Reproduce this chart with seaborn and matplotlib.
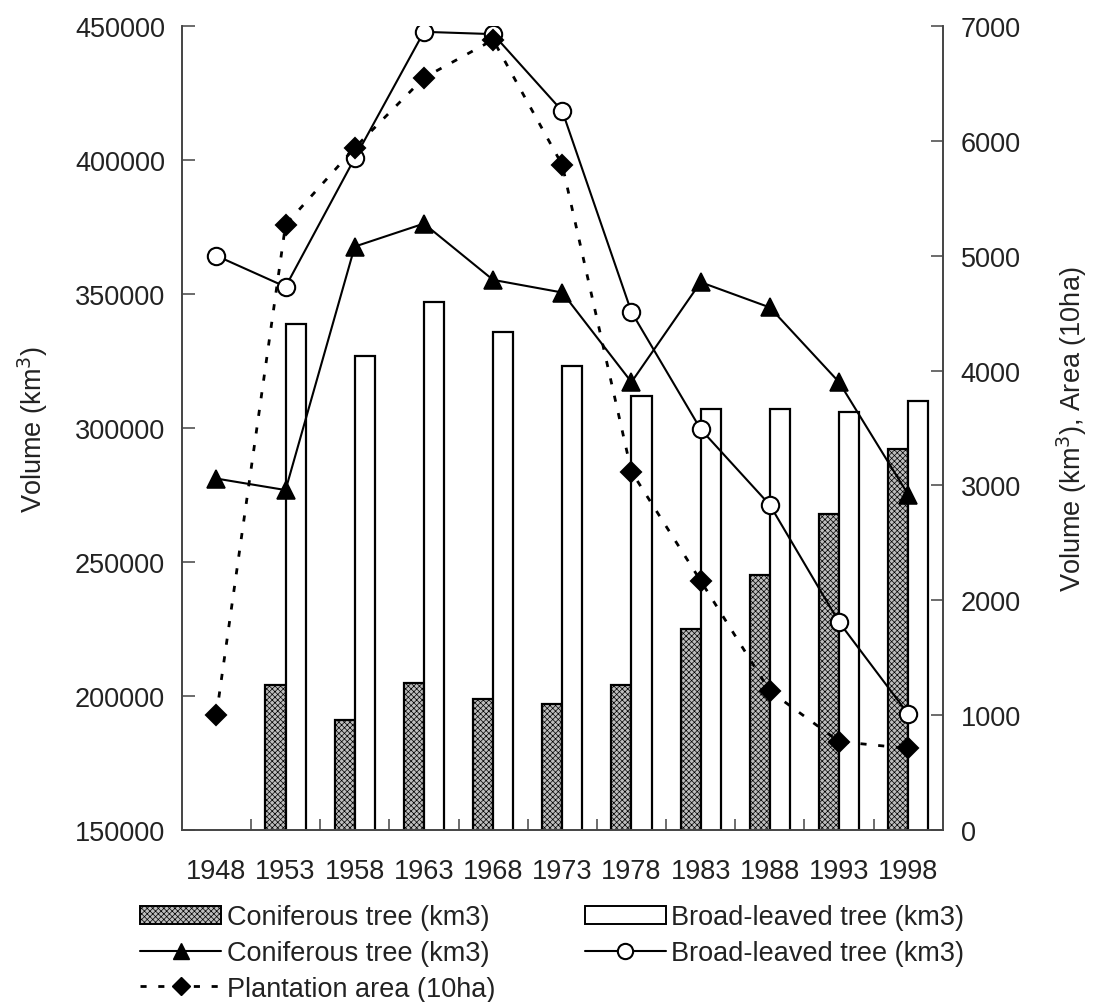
import numpy as np
import pandas as pd
import matplotlib
matplotlib.use("Agg")
import matplotlib.pyplot as plt
import seaborn as sns
from matplotlib.patches import Patch
from matplotlib.lines import Line2D

years = ["1948", "1953", "1958", "1963", "1968", "1973", "1978", "1983", "1988", "1993", "1998"]
conif_volume_bar = [np.nan, 204000, 191000, 205000, 199000, 197000, 204000, 225000, 245000, 268000, 292000]
broad_volume_bar = [np.nan, 339000, 327000, 347000, 336000, 323000, 312000, 307000, 307000, 306000, 310000]
conif_line = [3060, 2960, 5080, 5280, 4790, 4680, 3900, 4770, 4550, 3900, 2920]
broad_line = [5000, 4730, 5850, 6950, 6930, 6260, 4510, 3490, 2830, 1810, 1010]
plantation = [1000, 5270, 5940, 6550, 6880, 5790, 3120, 2170, 1210, 770, 710]

bar_labels = ["Coniferous tree (km3)", "Broad-leaved tree (km3)"]

sns.set_theme(style="white")
plt.rcParams["font.family"] = ["Liberation Sans", "DejaVu Sans"]
plt.rcParams["hatch.linewidth"] = 0.5
plt.rcParams["hatch.color"] = "#333333"

FS = 19.5
TXT = "#222222"
DOTS = (0, (2.2, 4.2))

fig = plt.figure(figsize=(10.95, 10.03), dpi=100)
ax = fig.add_axes([0.166, 0.1715, 0.695, 0.8015])

df = pd.DataFrame({
    "year": years * 2,
    "value": conif_volume_bar + broad_volume_bar,
    "kind": [bar_labels[0]] * len(years) + [bar_labels[1]] * len(years),
})
sns.barplot(data=df, x="year", y="value", hue="kind", ax=ax, width=0.58,
            palette={bar_labels[0]: "#bdbdbd", bar_labels[1]: "white"},
            edgecolor="black", linewidth=1.6, legend=False, errorbar=None)
for bar in ax.containers[0]:
    bar.set_hatch("xxxxxx")

ax.set_ylim(150000, 450000)
ax.set_yticks(np.arange(150000, 450001, 50000))
ax.set_xlim(-0.5, len(years) - 0.5)

ax2 = ax.twinx()
common = dict(ax=ax2, errorbar=None, color="black")
sns.pointplot(x=years, y=conif_line, markers="^", linestyles="-",
              markersize=12.5, linewidth=1.5, **common)
sns.pointplot(x=years, y=broad_line, markers="o", linestyles="-",
              markersize=12.5, linewidth=1.5, markerfacecolor="white",
              markeredgecolor="black", markeredgewidth=1.5, **common)
sns.pointplot(x=years, y=plantation, markers="D", linestyles=DOTS,
              markersize=10, linewidth=2.0, **common)
ax2.set_ylim(0, 7000)
ax2.set_yticks(np.arange(0, 7001, 1000))
ax2.set_xlim(-0.5, len(years) - 0.5)

# Ticks and spines
for a in (ax, ax2):
    a.spines["top"].set_visible(False)
    for s in ("left", "right", "bottom"):
        a.spines[s].set_color("#444444")
        a.spines[s].set_linewidth(1.2)
    a.grid(False)
ax.set_xlabel("")
ax.set_ylabel("Volume (km$^3$)", fontsize=FS, color=TXT, labelpad=18)
ax2.set_ylabel("Volume (km$^3$), Area (10ha)", fontsize=FS, color=TXT, labelpad=24)
ax2.set_xlabel("")

ax.tick_params(axis="y", direction="in", length=9, width=1.1, color="#444444",
               labelsize=FS, labelcolor=TXT, pad=12, left=True)
ax2.tick_params(axis="y", direction="in", length=9, width=1.1, color="#444444",
                labelsize=FS, labelcolor=TXT, pad=13, right=True)
ax.set_xticks(range(len(years)))
ax.set_xticklabels(years)
ax.tick_params(axis="x", which="major", length=0, labelsize=FS, labelcolor=TXT, pad=20)
ax.set_xticks(np.arange(0.5, len(years) - 0.5, 1), minor=True)
ax.tick_params(axis="x", which="minor", direction="in", length=8, width=1.1,
               color="#444444", bottom=True)
ax2.tick_params(axis="x", which="both", length=0)

handles = [
    Patch(facecolor="#bdbdbd", edgecolor="black", hatch="xxxxxx", linewidth=1.4),
    Line2D([], [], color="black", lw=1.5, marker="^", markersize=11),
    Line2D([], [], color="black", lw=2.0, ls=DOTS, marker="D", markersize=9),
    Patch(facecolor="white", edgecolor="black", linewidth=1.4),
    Line2D([], [], color="black", lw=1.5, marker="o", markersize=11,
           markerfacecolor="white", markeredgewidth=1.5),
]
labels = ["Coniferous tree (km3)", "Coniferous tree (km3)", "Plantation area (10ha)",
          "Broad-leaved tree (km3)", "Broad-leaved tree (km3)"]
leg = fig.legend(handles, labels, ncol=2, loc="upper left",
                 bbox_to_anchor=(0.128, 0.0975), frameon=False, fontsize=FS,
                 handlelength=3.0, handleheight=0.65, handletextpad=0.2,
                 labelspacing=0.36, columnspacing=3.3, borderaxespad=0, borderpad=0)
for t in leg.get_texts():
    t.set_color(TXT)

fig.savefig("out.png", dpi=100)
